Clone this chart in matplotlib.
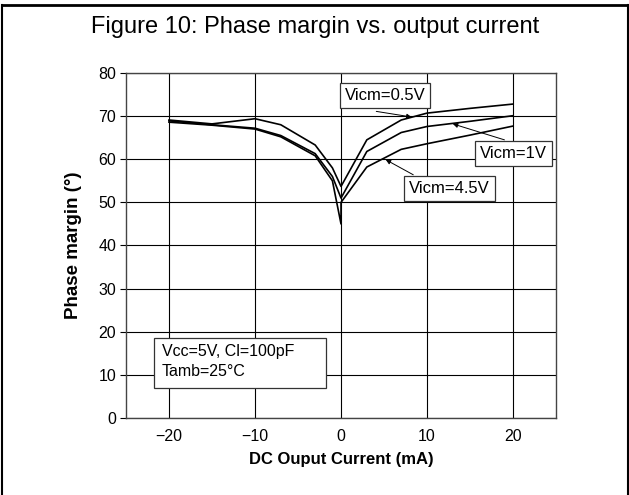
import matplotlib
matplotlib.use("Agg")
import matplotlib.pyplot as plt
from matplotlib.lines import Line2D
from matplotlib.patches import Rectangle

plt.rcParams['font.family'] = ['Liberation Sans', 'DejaVu Sans']

# data (DC output current in mA, phase margin in degrees)
x_05 = [-20, -15, -10, -7, -3, -1, 0, 3, 7, 10, 15, 20]
pm_05 = [69.1, 68.2, 69.4, 68.0, 63.3, 58.0, 53.7, 64.5, 69.1, 70.7, 71.8, 72.8]
x_1 = [-20, -15, -10, -7, -3, -1, 0, 3, 7, 10, 15, 20]
pm_1 = [68.9, 68.0, 67.2, 65.5, 61.3, 56.0, 51.0, 61.8, 66.2, 67.6, 68.8, 70.1]
x_45 = [-20, -15, -10, -7, -3, -1, 0, 0, 3, 7, 10, 15, 20]
pm_45 = [68.6, 67.9, 67.0, 65.2, 60.8, 55.0, 45.0, 50.0, 58.2, 62.3, 63.6, 65.6, 67.7]

labels = ["Vicm=0.5V", "Vicm=1V", "Vicm=4.5V"]
xticks = [-20, -10, 0, 10, 20]
yticks = [0, 10, 20, 30, 40, 50, 60, 70, 80]

fig = plt.figure(figsize=(6.29, 4.95), dpi=100)
ax = fig.add_axes([0.2003, 0.1556, 0.6837, 0.6969])

for xs, ys in [(x_05, pm_05), (x_1, pm_1), (x_45, pm_45)]:
    ax.plot(xs, ys, color='black', lw=1.2, zorder=3)

ax.set_xlim(-25, 25)
ax.set_ylim(0, 80)
ax.set_xticks(xticks)
ax.set_xticklabels(['\u221220', '\u221210', '0', '10', '20'])
ax.set_yticks(yticks)
ax.grid(True, color='black', lw=0.8)
ax.set_axisbelow(True)
ax.tick_params(axis='y', direction='out', length=4, width=0.8, labelsize=11.5, pad=3)
ax.tick_params(axis='x', length=0, labelsize=11.5, pad=8)
for s in ax.spines.values():
    s.set_color('#444444')
    s.set_linewidth(1.0)

ax.set_xlabel("DC Ouput Current (mA)", fontsize=12, fontweight='bold', labelpad=6)
ax.set_ylabel("Phase margin (°)", fontsize=13.5, fontweight='bold', labelpad=12)

box = dict(boxstyle='square,pad=0.3', fc='white', ec='#333333', lw=0.9)
arrow = dict(arrowstyle='-|>', color='black', lw=0.7, mutation_scale=7, shrinkA=0, shrinkB=0)
ax.annotate(labels[0], xy=(8.2, 69.8), xytext=(5.1, 74.7), fontsize=12,
            ha='center', va='center', bbox=box, zorder=5)
ax.annotate("", xy=(8.2, 69.8), xytext=(4.1, 71.1), arrowprops=arrow, zorder=5)
ax.annotate(labels[1], xy=(13.0, 68.2), xytext=(20.0, 61.4), fontsize=12,
            ha='center', va='center', bbox=box, zorder=5)
ax.annotate("", xy=(13.0, 68.2), xytext=(19.0, 64.5), arrowprops=arrow, zorder=5)
ax.annotate(labels[2], xy=(5.2, 59.9), xytext=(12.6, 53.2), fontsize=12,
            ha='center', va='center', bbox=box, zorder=5)
ax.annotate("", xy=(5.2, 59.9), xytext=(8.4, 56.4), arrowprops=arrow, zorder=5)

# conditions box
ax.add_patch(Rectangle((-21.8, 7.0), 20.1, 11.6, fc='white', ec='#333333', lw=0.9, zorder=4))
ax.text(-20.8, 15.4, "Vcc=5V, Cl=100pF", fontsize=11.5, va='center', ha='left', zorder=5)
ax.text(-20.8, 10.8, "Tamb=25°C", fontsize=11.5, va='center', ha='left', zorder=5)

fig.text(0.5 * (88 + 542) / 629, 1 - 27 / 495, "Figure 10: Phase margin vs. output current",
         fontsize=17, ha='center', va='center')

# outer frame (open at the bottom)
fig.add_artist(Line2D([1.5 / 629, 1.5 / 629], [0, 1 - 5 / 495], transform=fig.transFigure, color='black', lw=1.5))
fig.add_artist(Line2D([1.5 / 629, 627.5 / 629], [1 - 5 / 495, 1 - 5 / 495], transform=fig.transFigure, color='black', lw=2))
fig.add_artist(Line2D([627.5 / 629, 627.5 / 629], [0, 1 - 5 / 495], transform=fig.transFigure, color='black', lw=1.5))

fig.savefig("out.png", dpi=100)
